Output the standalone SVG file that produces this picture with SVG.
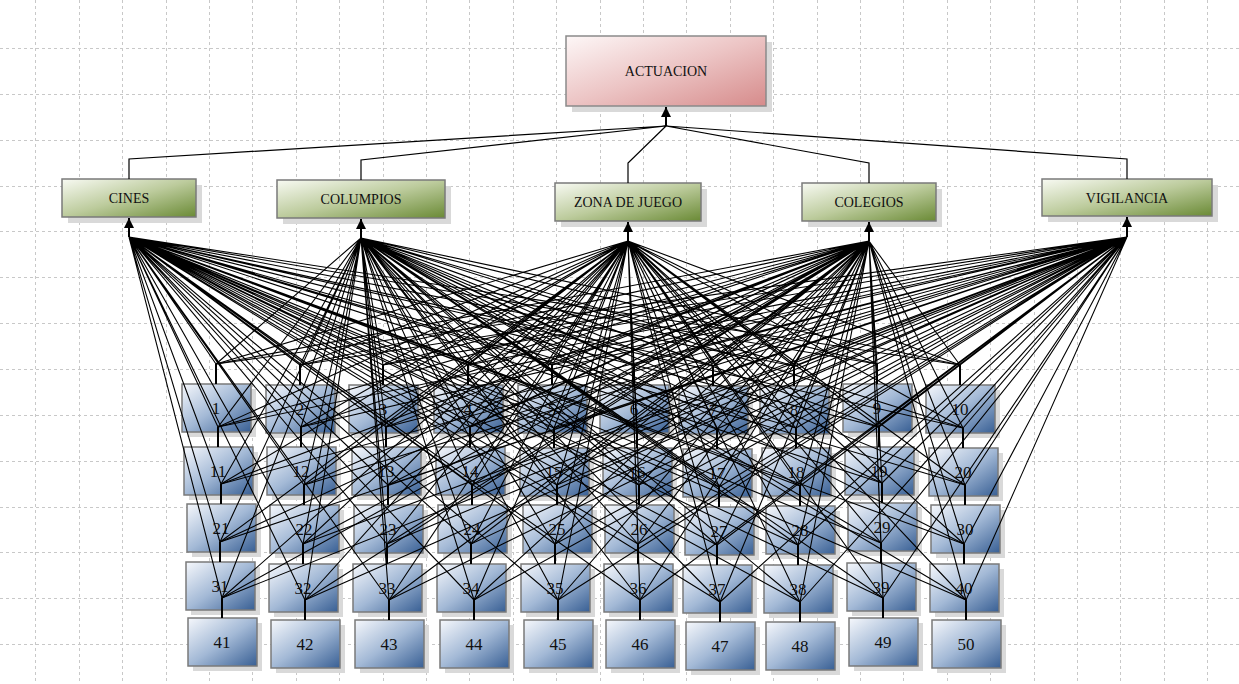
<svg xmlns="http://www.w3.org/2000/svg" width="1239" height="684" viewBox="0 0 1239 684">
<defs>
<linearGradient id="gBlue" x1="0" y1="0" x2="1" y2="1"><stop offset="0" stop-color="#f6f8fc"/><stop offset="0.5" stop-color="#a3b9d6"/><stop offset="1" stop-color="#385f94"/></linearGradient>
<linearGradient id="gGreen" x1="0" y1="0" x2="1" y2="1"><stop offset="0" stop-color="#f8faf3"/><stop offset="0.5" stop-color="#bccb9c"/><stop offset="1" stop-color="#6a8a35"/></linearGradient>
<linearGradient id="gPink" x1="0" y1="0" x2="1" y2="1"><stop offset="0" stop-color="#fdf7f7"/><stop offset="0.5" stop-color="#ecc4c4"/><stop offset="1" stop-color="#d68b8b"/></linearGradient>
<marker id="arr" markerUnits="userSpaceOnUse" markerWidth="12" markerHeight="12" refX="10" refY="5" orient="auto"><path d="M0,0L10,5L0,10z" fill="#000"/></marker>
<style>
.grid{stroke:#c8c8c8;stroke-width:1;stroke-dasharray:3,3;fill:none}
.sh{fill:#d9d9d9}
.nb{fill:url(#gBlue);stroke:#7a7a7a;stroke-width:1.5}
.cg{fill:url(#gGreen);stroke:#7a7a7a;stroke-width:1.5}
.rt{fill:url(#gPink);stroke:#8a8a8a;stroke-width:1.5}
.t{font-family:"Liberation Serif",serif;font-size:14px;fill:#111;text-anchor:middle}
.n{font-family:"Liberation Serif",serif;font-size:17px;fill:#111;text-anchor:middle}
.fan{stroke:#000;stroke-width:1.1;fill:none}
.stub{stroke:#000;stroke-width:2;fill:none}
.up{stroke:#000;stroke-width:1.2;fill:none}
</style>
</defs>
<rect width="1239" height="684" fill="#fff"/>
<path class="grid" d="M35.5 0V684M79.5 0V684M122.5 0V684M166.5 0V684M209.5 0V684M252.5 0V684M296.5 0V684M339.5 0V684M383.5 0V684M426.5 0V684M469.5 0V684M513.5 0V684M556.5 0V684M600.5 0V684M643.5 0V684M686.5 0V684M730.5 0V684M773.5 0V684M817.5 0V684M860.5 0V684M903.5 0V684M947.5 0V684M990.5 0V684M1034.5 0V684M1077.5 0V684M1120.5 0V684M1164.5 0V684M1207.5 0V684M0 48.5H1239M0 94.5H1239M0 140.5H1239M0 186.5H1239M0 231.5H1239M0 277.5H1239M0 323.5H1239M0 369.5H1239M0 415.5H1239M0 461.5H1239M0 507.5H1239M0 552.5H1239M0 598.5H1239M0 644.5H1239"/>
<g id="actuacion"><rect class="sh" x="572" y="42" width="200" height="70"/><rect class="rt" x="566" y="36" width="200" height="70"/><text class="t" x="666" y="76">ACTUACION</text></g>
<g id="cines"><rect class="sh" x="68" y="185" width="134" height="38"/><rect class="cg" x="62" y="179" width="134" height="38"/><text class="t" x="129" y="203">CINES</text></g>
<g id="columpios"><rect class="sh" x="283" y="186" width="168" height="38"/><rect class="cg" x="277" y="180" width="168" height="38"/><text class="t" x="361" y="204">COLUMPIOS</text></g>
<g id="zona"><rect class="sh" x="561" y="189" width="146" height="38"/><rect class="cg" x="555" y="183" width="146" height="38"/><text class="t" x="628" y="207">ZONA DE JUEGO</text></g>
<g id="colegios"><rect class="sh" x="808" y="189" width="134" height="38"/><rect class="cg" x="802" y="183" width="134" height="38"/><text class="t" x="869" y="207">COLEGIOS</text></g>
<g id="vigilancia"><rect class="sh" x="1048" y="185" width="170" height="37"/><rect class="cg" x="1042" y="179" width="170" height="37"/><text class="t" x="1127" y="203">VIGILANCIA</text></g>
<g id="n1"><rect class="sh" x="187" y="389" width="69" height="48"/><rect class="nb" x="182" y="384" width="69" height="48"/><text class="n" x="216" y="414">1</text></g>
<g id="n2"><rect class="sh" x="271" y="390" width="69" height="48"/><rect class="nb" x="266" y="385" width="69" height="48"/><text class="n" x="300" y="415">2</text></g>
<g id="n3"><rect class="sh" x="354" y="390" width="69" height="48"/><rect class="nb" x="349" y="385" width="69" height="48"/><text class="n" x="383" y="415">3</text></g>
<g id="n4"><rect class="sh" x="439" y="390" width="69" height="48"/><rect class="nb" x="434" y="385" width="69" height="48"/><text class="n" x="468" y="415">4</text></g>
<g id="n5"><rect class="sh" x="523" y="390" width="69" height="48"/><rect class="nb" x="518" y="385" width="69" height="48"/><text class="n" x="552" y="415">5</text></g>
<g id="n6"><rect class="sh" x="605" y="390" width="69" height="48"/><rect class="nb" x="600" y="385" width="69" height="48"/><text class="n" x="634" y="415">6</text></g>
<g id="n7"><rect class="sh" x="684" y="391" width="69" height="48"/><rect class="nb" x="679" y="386" width="69" height="48"/><text class="n" x="713" y="416">7</text></g>
<g id="n8"><rect class="sh" x="765" y="391" width="69" height="48"/><rect class="nb" x="760" y="386" width="69" height="48"/><text class="n" x="794" y="416">8</text></g>
<g id="n9"><rect class="sh" x="848" y="389" width="69" height="48"/><rect class="nb" x="843" y="384" width="69" height="48"/><text class="n" x="877" y="414">9</text></g>
<g id="n10"><rect class="sh" x="931" y="390" width="69" height="48"/><rect class="nb" x="926" y="385" width="69" height="48"/><text class="n" x="960" y="415">10</text></g>
<g id="n11"><rect class="sh" x="189" y="452" width="69" height="48"/><rect class="nb" x="184" y="447" width="69" height="48"/><text class="n" x="218" y="477">11</text></g>
<g id="n12"><rect class="sh" x="272" y="452" width="69" height="48"/><rect class="nb" x="267" y="447" width="69" height="48"/><text class="n" x="301" y="477">12</text></g>
<g id="n13"><rect class="sh" x="357" y="452" width="69" height="48"/><rect class="nb" x="352" y="447" width="69" height="48"/><text class="n" x="386" y="477">13</text></g>
<g id="n14"><rect class="sh" x="441" y="452" width="69" height="48"/><rect class="nb" x="436" y="447" width="69" height="48"/><text class="n" x="470" y="477">14</text></g>
<g id="n15"><rect class="sh" x="525" y="453" width="69" height="48"/><rect class="nb" x="520" y="448" width="69" height="48"/><text class="n" x="554" y="478">15</text></g>
<g id="n16"><rect class="sh" x="608" y="453" width="69" height="48"/><rect class="nb" x="603" y="448" width="69" height="48"/><text class="n" x="637" y="478">16</text></g>
<g id="n17"><rect class="sh" x="688" y="454" width="69" height="48"/><rect class="nb" x="683" y="449" width="69" height="48"/><text class="n" x="717" y="479">17</text></g>
<g id="n18"><rect class="sh" x="767" y="453" width="69" height="48"/><rect class="nb" x="762" y="448" width="69" height="48"/><text class="n" x="796" y="478">18</text></g>
<g id="n19"><rect class="sh" x="850" y="452" width="69" height="48"/><rect class="nb" x="845" y="447" width="69" height="48"/><text class="n" x="879" y="477">19</text></g>
<g id="n20"><rect class="sh" x="934" y="453" width="69" height="48"/><rect class="nb" x="929" y="448" width="69" height="48"/><text class="n" x="963" y="478">20</text></g>
<g id="n21"><rect class="sh" x="192" y="509" width="69" height="48"/><rect class="nb" x="187" y="504" width="69" height="48"/><text class="n" x="221" y="534">21</text></g>
<g id="n22"><rect class="sh" x="275" y="510" width="69" height="48"/><rect class="nb" x="270" y="505" width="69" height="48"/><text class="n" x="304" y="535">22</text></g>
<g id="n23"><rect class="sh" x="359" y="510" width="69" height="48"/><rect class="nb" x="354" y="505" width="69" height="48"/><text class="n" x="388" y="535">23</text></g>
<g id="n24"><rect class="sh" x="443" y="510" width="69" height="48"/><rect class="nb" x="438" y="505" width="69" height="48"/><text class="n" x="472" y="535">24</text></g>
<g id="n25"><rect class="sh" x="528" y="510" width="69" height="48"/><rect class="nb" x="523" y="505" width="69" height="48"/><text class="n" x="557" y="535">25</text></g>
<g id="n26"><rect class="sh" x="610" y="510" width="69" height="48"/><rect class="nb" x="605" y="505" width="69" height="48"/><text class="n" x="639" y="535">26</text></g>
<g id="n27"><rect class="sh" x="690" y="512" width="69" height="48"/><rect class="nb" x="685" y="507" width="69" height="48"/><text class="n" x="719" y="537">27</text></g>
<g id="n28"><rect class="sh" x="771" y="511" width="69" height="48"/><rect class="nb" x="766" y="506" width="69" height="48"/><text class="n" x="800" y="536">28</text></g>
<g id="n29"><rect class="sh" x="853" y="508" width="69" height="48"/><rect class="nb" x="848" y="503" width="69" height="48"/><text class="n" x="882" y="533">29</text></g>
<g id="n30"><rect class="sh" x="936" y="510" width="69" height="48"/><rect class="nb" x="931" y="505" width="69" height="48"/><text class="n" x="965" y="535">30</text></g>
<g id="n31"><rect class="sh" x="191" y="567" width="69" height="48"/><rect class="nb" x="186" y="562" width="69" height="48"/><text class="n" x="220" y="592">31</text></g>
<g id="n32"><rect class="sh" x="274" y="569" width="69" height="48"/><rect class="nb" x="269" y="564" width="69" height="48"/><text class="n" x="303" y="594">32</text></g>
<g id="n33"><rect class="sh" x="358" y="569" width="69" height="48"/><rect class="nb" x="353" y="564" width="69" height="48"/><text class="n" x="387" y="594">33</text></g>
<g id="n34"><rect class="sh" x="442" y="569" width="69" height="48"/><rect class="nb" x="437" y="564" width="69" height="48"/><text class="n" x="471" y="594">34</text></g>
<g id="n35"><rect class="sh" x="526" y="569" width="69" height="48"/><rect class="nb" x="521" y="564" width="69" height="48"/><text class="n" x="555" y="594">35</text></g>
<g id="n36"><rect class="sh" x="609" y="569" width="69" height="48"/><rect class="nb" x="604" y="564" width="69" height="48"/><text class="n" x="638" y="594">36</text></g>
<g id="n37"><rect class="sh" x="688" y="570" width="69" height="48"/><rect class="nb" x="683" y="565" width="69" height="48"/><text class="n" x="717" y="595">37</text></g>
<g id="n38"><rect class="sh" x="769" y="570" width="69" height="48"/><rect class="nb" x="764" y="565" width="69" height="48"/><text class="n" x="798" y="595">38</text></g>
<g id="n39"><rect class="sh" x="852" y="568" width="69" height="48"/><rect class="nb" x="847" y="563" width="69" height="48"/><text class="n" x="881" y="593">39</text></g>
<g id="n40"><rect class="sh" x="935" y="569" width="69" height="48"/><rect class="nb" x="930" y="564" width="69" height="48"/><text class="n" x="964" y="594">40</text></g>
<g id="n41"><rect class="sh" x="193" y="623" width="69" height="48"/><rect class="nb" x="188" y="618" width="69" height="48"/><text class="n" x="222" y="648">41</text></g>
<g id="n42"><rect class="sh" x="276" y="625" width="69" height="48"/><rect class="nb" x="271" y="620" width="69" height="48"/><text class="n" x="305" y="650">42</text></g>
<g id="n43"><rect class="sh" x="360" y="625" width="69" height="48"/><rect class="nb" x="355" y="620" width="69" height="48"/><text class="n" x="389" y="650">43</text></g>
<g id="n44"><rect class="sh" x="445" y="625" width="69" height="48"/><rect class="nb" x="440" y="620" width="69" height="48"/><text class="n" x="474" y="650">44</text></g>
<g id="n45"><rect class="sh" x="529" y="625" width="69" height="48"/><rect class="nb" x="524" y="620" width="69" height="48"/><text class="n" x="558" y="650">45</text></g>
<g id="n46"><rect class="sh" x="611" y="625" width="69" height="48"/><rect class="nb" x="606" y="620" width="69" height="48"/><text class="n" x="640" y="650">46</text></g>
<g id="n47"><rect class="sh" x="691" y="627" width="69" height="48"/><rect class="nb" x="686" y="622" width="69" height="48"/><text class="n" x="720" y="652">47</text></g>
<g id="n48"><rect class="sh" x="771" y="627" width="69" height="48"/><rect class="nb" x="766" y="622" width="69" height="48"/><text class="n" x="800" y="652">48</text></g>
<g id="n49"><rect class="sh" x="854" y="623" width="69" height="48"/><rect class="nb" x="849" y="618" width="69" height="48"/><text class="n" x="883" y="648">49</text></g>
<g id="n50"><rect class="sh" x="937" y="625" width="69" height="48"/><rect class="nb" x="932" y="620" width="69" height="48"/><text class="n" x="966" y="650">50</text></g>
<g id="connectors">
<path class="up" d="M129 179V159L666 126M361 180V160L666 126M628 183V163L666 126M869 183V163L666 126M1127 179V159L666 126"/>
<path class="stub" d="M666 126V107" marker-end="url(#arr)"/>
<path class="stub" d="M129 237V218" marker-end="url(#arr)"/>
<path class="stub" d="M361 238V219" marker-end="url(#arr)"/>
<path class="stub" d="M628 241V222" marker-end="url(#arr)"/>
<path class="stub" d="M869 241V222" marker-end="url(#arr)"/>
<path class="stub" d="M1127 237V217" marker-end="url(#arr)"/>
<path class="stub" d="M216 364V384M300 365V385M383 365V385M468 365V385M552 365V385M634 365V385M713 366V386M794 366V386M877 364V384M960 365V385M218 427V447M301 427V447M386 427V447M470 427V447M554 428V448M637 428V448M717 429V449M796 428V448M879 427V447M963 428V448M221 484V504M304 485V505M388 485V505M472 485V505M557 485V505M639 485V505M719 487V507M800 486V506M882 483V503M965 485V505M220 542V562M303 544V564M387 544V564M471 544V564M555 544V564M638 544V564M717 545V565M798 545V565M881 543V563M964 544V564M222 598V618M305 600V620M389 600V620M474 600V620M558 600V620M640 600V620M720 602V622M800 602V622M883 598V618M966 600V620"/>
<path class="fan" d="M216 364L129 237M300 365L129 237M383 365L129 237M468 365L129 237M552 365L129 237M634 365L129 237M713 366L129 237M794 366L129 237M877 364L129 237M960 365L129 237M218 427L129 237M301 427L129 237M386 427L129 237M470 427L129 237M554 428L129 237M637 428L129 237M717 429L129 237M796 428L129 237M879 427L129 237M963 428L129 237M221 484L129 237M304 485L129 237M388 485L129 237M472 485L129 237M557 485L129 237M639 485L129 237M719 487L129 237M800 486L129 237M882 483L129 237M965 485L129 237M220 542L129 237M303 544L129 237M387 544L129 237M471 544L129 237M555 544L129 237M638 544L129 237M717 545L129 237M798 545L129 237M881 543L129 237M964 544L129 237M222 598L129 237M305 600L129 237M389 600L129 237M474 600L129 237M558 600L129 237M640 600L129 237M720 602L129 237M800 602L129 237M883 598L129 237M966 600L129 237"/>
<path class="fan" d="M216 364L361 238M300 365L361 238M383 365L361 238M468 365L361 238M552 365L361 238M634 365L361 238M713 366L361 238M794 366L361 238M877 364L361 238M960 365L361 238M218 427L361 238M301 427L361 238M386 427L361 238M470 427L361 238M554 428L361 238M637 428L361 238M717 429L361 238M796 428L361 238M879 427L361 238M963 428L361 238M221 484L361 238M304 485L361 238M388 485L361 238M472 485L361 238M557 485L361 238M639 485L361 238M719 487L361 238M800 486L361 238M882 483L361 238M965 485L361 238M220 542L361 238M303 544L361 238M387 544L361 238M471 544L361 238M555 544L361 238M638 544L361 238M717 545L361 238M798 545L361 238M881 543L361 238M964 544L361 238M222 598L361 238M305 600L361 238M389 600L361 238M474 600L361 238M558 600L361 238M640 600L361 238M720 602L361 238M800 602L361 238M883 598L361 238M966 600L361 238"/>
<path class="fan" d="M216 364L628 241M300 365L628 241M383 365L628 241M468 365L628 241M552 365L628 241M634 365L628 241M713 366L628 241M794 366L628 241M877 364L628 241M960 365L628 241M218 427L628 241M301 427L628 241M386 427L628 241M470 427L628 241M554 428L628 241M637 428L628 241M717 429L628 241M796 428L628 241M879 427L628 241M963 428L628 241M221 484L628 241M304 485L628 241M388 485L628 241M472 485L628 241M557 485L628 241M639 485L628 241M719 487L628 241M800 486L628 241M882 483L628 241M965 485L628 241M220 542L628 241M303 544L628 241M387 544L628 241M471 544L628 241M555 544L628 241M638 544L628 241M717 545L628 241M798 545L628 241M881 543L628 241M964 544L628 241M222 598L628 241M305 600L628 241M389 600L628 241M474 600L628 241M558 600L628 241M640 600L628 241M720 602L628 241M800 602L628 241M883 598L628 241M966 600L628 241"/>
<path class="fan" d="M216 364L869 241M300 365L869 241M383 365L869 241M468 365L869 241M552 365L869 241M634 365L869 241M713 366L869 241M794 366L869 241M877 364L869 241M960 365L869 241M218 427L869 241M301 427L869 241M386 427L869 241M470 427L869 241M554 428L869 241M637 428L869 241M717 429L869 241M796 428L869 241M879 427L869 241M963 428L869 241M221 484L869 241M304 485L869 241M388 485L869 241M472 485L869 241M557 485L869 241M639 485L869 241M719 487L869 241M800 486L869 241M882 483L869 241M965 485L869 241M220 542L869 241M303 544L869 241M387 544L869 241M471 544L869 241M555 544L869 241M638 544L869 241M717 545L869 241M798 545L869 241M881 543L869 241M964 544L869 241M222 598L869 241M305 600L869 241M389 600L869 241M474 600L869 241M558 600L869 241M640 600L869 241M720 602L869 241M800 602L869 241M883 598L869 241M966 600L869 241"/>
<path class="fan" d="M216 364L1127 237M300 365L1127 237M383 365L1127 237M468 365L1127 237M552 365L1127 237M634 365L1127 237M713 366L1127 237M794 366L1127 237M877 364L1127 237M960 365L1127 237M218 427L1127 237M301 427L1127 237M386 427L1127 237M470 427L1127 237M554 428L1127 237M637 428L1127 237M717 429L1127 237M796 428L1127 237M879 427L1127 237M963 428L1127 237M221 484L1127 237M304 485L1127 237M388 485L1127 237M472 485L1127 237M557 485L1127 237M639 485L1127 237M719 487L1127 237M800 486L1127 237M882 483L1127 237M965 485L1127 237M220 542L1127 237M303 544L1127 237M387 544L1127 237M471 544L1127 237M555 544L1127 237M638 544L1127 237M717 545L1127 237M798 545L1127 237M881 543L1127 237M964 544L1127 237M222 598L1127 237M305 600L1127 237M389 600L1127 237M474 600L1127 237M558 600L1127 237M640 600L1127 237M720 602L1127 237M800 602L1127 237M883 598L1127 237M966 600L1127 237"/>
</g>
</svg>
